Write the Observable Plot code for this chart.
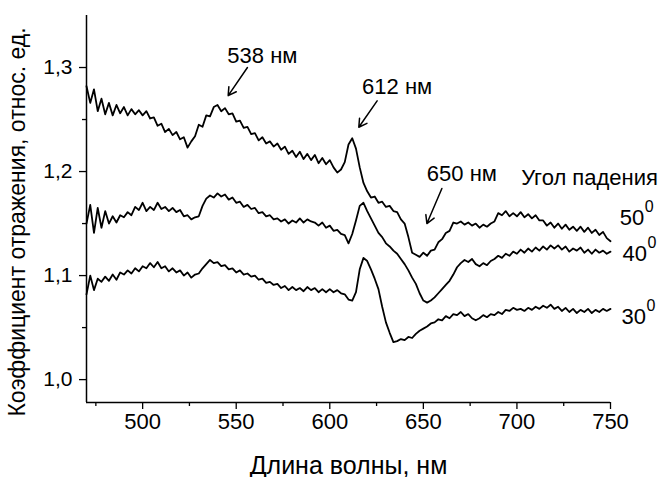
<!DOCTYPE html>
<html><head><meta charset="utf-8">
<script src="https://cdn.jsdelivr.net/npm/d3@7"></script>
<script src="https://cdn.jsdelivr.net/npm/@observablehq/plot@0.6"></script>
<style>body{margin:0;background:#fff}</style>
</head><body><div id="chart"></div>
<script>
const wavelength = [470,472,474,476,478,480,482,484,486,488,490,492,494,496,498,
500,502,504,506,508,510,512,514,516,518,520,522,524,526,528,
530,532,534,536,538,540,542,544,546,548,550,552,554,556,558,
560,562,564,566,568,570,572,574,576,578,580,582,584,586,588,
590,592,594,596,598,600,602,604,606,608,610,612,614,616,618,
620,622,624,626,628,630,632,634,636,638,640,642,644,646,648,
650,652,654,656,658,660,662,664,666,668,670,672,674,676,678,
680,682,684,686,688,690,692,694,696,698,700,702,704,706,708,
710,712,714,716,718,720,722,724,726,728,730,732,734,736,738,
740,742,744,746,748,750];

const r50 = [1.282,1.266,1.279,1.258,1.270,1.255,1.266,1.254,1.264,1.256,1.262,1.254,1.260,1.255,1.259,
1.254,1.258,1.251,1.252,1.244,1.246,1.238,1.241,1.235,1.238,1.231,1.233,1.223,1.229,1.234,
1.245,1.243,1.254,1.253,1.262,1.264,1.258,1.261,1.255,1.256,1.248,1.249,1.242,1.243,1.236,
1.237,1.230,1.233,1.227,1.229,1.224,1.227,1.221,1.224,1.217,1.220,1.214,1.219,1.212,1.217,
1.211,1.216,1.208,1.213,1.207,1.211,1.204,1.199,1.202,1.209,1.226,1.232,1.222,1.204,1.189,
1.181,1.175,1.176,1.170,1.171,1.166,1.167,1.162,1.161,1.154,1.150,1.137,1.122,1.120,1.118,
1.122,1.119,1.124,1.125,1.132,1.135,1.141,1.143,1.151,1.150,1.152,1.149,1.151,1.148,1.150,
1.146,1.149,1.147,1.150,1.152,1.160,1.158,1.162,1.157,1.160,1.157,1.161,1.156,1.159,1.155,
1.158,1.153,1.153,1.148,1.151,1.146,1.150,1.145,1.149,1.144,1.147,1.143,1.147,1.142,1.146,
1.141,1.144,1.139,1.142,1.136,1.133];

const r40 = [1.150,1.168,1.141,1.165,1.146,1.162,1.150,1.157,1.151,1.158,1.156,1.161,1.158,1.166,1.163,
1.170,1.162,1.166,1.163,1.170,1.164,1.166,1.162,1.165,1.161,1.163,1.157,1.158,1.154,1.156,
1.157,1.167,1.174,1.177,1.175,1.179,1.176,1.178,1.173,1.175,1.170,1.171,1.166,1.168,1.164,
1.165,1.160,1.161,1.157,1.158,1.154,1.155,1.152,1.154,1.150,1.153,1.151,1.155,1.151,1.154,
1.152,1.151,1.148,1.151,1.146,1.148,1.143,1.144,1.140,1.139,1.131,1.140,1.153,1.167,1.170,
1.162,1.155,1.148,1.141,1.137,1.131,1.128,1.124,1.121,1.116,1.111,1.105,1.098,1.092,1.083,
1.076,1.074,1.076,1.079,1.083,1.087,1.091,1.095,1.101,1.108,1.112,1.115,1.113,1.116,1.111,
1.109,1.112,1.110,1.114,1.116,1.119,1.117,1.121,1.119,1.123,1.121,1.125,1.122,1.126,1.123,
1.127,1.124,1.128,1.125,1.129,1.126,1.129,1.125,1.128,1.123,1.126,1.124,1.127,1.122,1.125,
1.121,1.125,1.122,1.124,1.121,1.123];

const r30 = [1.082,1.100,1.086,1.097,1.094,1.099,1.095,1.101,1.096,1.103,1.101,1.105,1.102,1.107,1.104,
1.109,1.107,1.112,1.108,1.113,1.107,1.109,1.104,1.107,1.103,1.105,1.100,1.103,1.098,1.101,
1.102,1.107,1.111,1.115,1.112,1.113,1.109,1.110,1.106,1.107,1.103,1.105,1.101,1.102,1.099,
1.100,1.096,1.097,1.093,1.094,1.091,1.092,1.088,1.090,1.086,1.089,1.086,1.088,1.085,1.089,
1.086,1.088,1.084,1.087,1.084,1.087,1.084,1.086,1.083,1.082,1.077,1.076,1.084,1.106,1.117,
1.114,1.106,1.097,1.087,1.070,1.055,1.045,1.036,1.037,1.039,1.038,1.041,1.040,1.044,1.047,
1.049,1.051,1.054,1.055,1.058,1.057,1.061,1.059,1.063,1.062,1.065,1.061,1.063,1.059,1.057,
1.059,1.062,1.060,1.063,1.062,1.065,1.063,1.067,1.066,1.069,1.067,1.068,1.066,1.069,1.067,
1.070,1.068,1.071,1.069,1.072,1.068,1.070,1.066,1.069,1.065,1.068,1.064,1.067,1.065,1.068,
1.064,1.067,1.065,1.068,1.066,1.068];

const xTicks = [500, 550, 600, 650, 700, 750];
const xMinorTicks = [475, 525, 575, 625, 675, 725];
const yTicks = [1.0, 1.1, 1.2, 1.3];
const yMinorTicks = [1.05, 1.15, 1.25];

const peakLabels = [
  {text: "538 нм", x: 564, y: 1.311},
  {text: "612 нм", x: 636, y: 1.281},
  {text: "650 нм", x: 670.6, y: 1.198}
];
const peakArrows = [
  {x1: 556, y1: 1.300, x2: 545.7, y2: 1.273},
  {x1: 625.3, y1: 1.268, x2: 615.5, y2: 1.2426},
  {x1: 659.9, y1: 1.1837, x2: 651.9, y2: 1.150}
];
const legendTitle = [{text: "Угол падения", x: 738.8, y: 1.194}];
const angleLabels = [
  {text: "50", x: 755.0, y: 1.1553},
  {text: "40", x: 756.4, y: 1.1212},
  {text: "30", x: 755.9, y: 1.0606}
];

const series = [["50", r50], ["40", r40], ["30", r30]];
const data = [];
for (const [angle, vals] of series) {
  const n = Math.min(vals.length, wavelength.length);
  for (let i = 0; i < n; i++) data.push({w: wavelength[i], r: vals[i], angle});
}

const fmt = d => d.toFixed(1).replace(".", ",");
const font = "'Liberation Sans', Arial, sans-serif";

const chart = Plot.plot({
  width: 662,
  height: 477,
  marginTop: 15,
  marginRight: 52,
  marginBottom: 75,
  marginLeft: 86,
  style: {fontFamily: font, background: "white", color: "black", overflow: "visible"},
  x: {domain: [470, 750]},
  y: {domain: [0.978, 1.35]},
  marks: [
    Plot.line(data, {x: "w", y: "r", z: "angle", stroke: "black", strokeWidth: 1.8, strokeLinejoin: "round"}),
    Plot.ruleX([470], {stroke: "black", strokeWidth: 1.5}),
    Plot.ruleY([0.978], {stroke: "black", strokeWidth: 1.5}),
    Plot.axisX(xTicks, {tickSize: 7, tickPadding: 4, fontSize: 22, tickFormat: d => String(d), label: null, strokeWidth: 1.3}),
    Plot.axisX(xMinorTicks, {tickSize: 4, tickFormat: () => "", label: null, strokeWidth: 1.3}),
    Plot.axisY(yTicks, {tickSize: 7, tickPadding: 7, fontSize: 21, tickFormat: fmt, label: null, strokeWidth: 1.3}),
    Plot.axisY(yMinorTicks, {tickSize: 4, tickFormat: () => "", label: null, strokeWidth: 1.3}),
    Plot.text(["Длина волны, нм"], {frameAnchor: "bottom", dy: 63, fontSize: 25, lineAnchor: "middle"}),
    Plot.text(["Коэффициент отражения, относ. ед."], {frameAnchor: "left", dx: -69, dy: 13, rotate: -90, textAnchor: "middle", fontSize: 23, lineAnchor: "middle"}),
    Plot.text(peakLabels, {x: "x", y: "y", text: "text", fontSize: 22, lineAnchor: "middle"}),
    Plot.arrow(peakArrows, {x1: "x1", y1: "y1", x2: "x2", y2: "y2", stroke: "black", strokeWidth: 1.5, headLength: 9}),
    Plot.text(legendTitle, {x: "x", y: "y", text: "text", fontSize: 22, lineAnchor: "middle"}),
    Plot.text(angleLabels, {x: "x", y: "y", text: "text", fontSize: 22, textAnchor: "start", lineAnchor: "middle"}),
    Plot.text(angleLabels, {x: "x", y: "y", text: () => "0", fontSize: 16, textAnchor: "start", lineAnchor: "middle", dx: 25, dy: -11})
  ]
});
document.getElementById("chart").appendChild(chart);
</script>
</body></html>
